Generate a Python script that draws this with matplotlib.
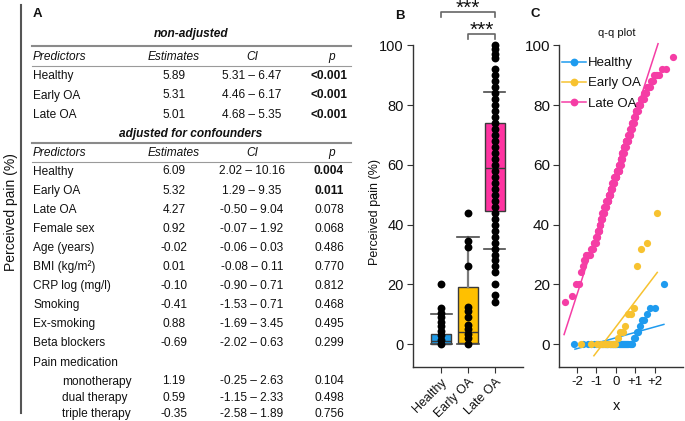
import matplotlib
matplotlib.use('Agg')
import matplotlib.pyplot as plt
import numpy as np
from statistics import NormalDist
from matplotlib.lines import Line2D

plt.rcParams['font.family'] = ['Liberation Sans', 'DejaVu Sans']

# ------------------------------------------------------------------ data
col_headers = ['Predictors', 'Estimates', 'CI', 'p']

nonadj_pred = ['Healthy', 'Early OA', 'Late OA']
nonadj_est = ['5.89', '5.31', '5.01']
nonadj_ci = ['5.31 – 6.47', '4.46 – 6.17', '4.68 – 5.35']
nonadj_p = ['<0.001', '<0.001', '<0.001']
nonadj_sig = [True, True, True]

adj_pred = ['Healthy', 'Early OA', 'Late OA', 'Female sex', 'Age (years)',
            'BMI (kg/m²)', 'CRP log (mg/l)', 'Smoking', 'Ex-smoking',
            'Beta blockers', 'Pain medication', 'monotherapy', 'dual therapy',
            'triple therapy']
adj_est = ['6.09', '5.32', '4.27', '0.92', '-0.02', '0.01', '-0.10', '-0.41',
           '0.88', '-0.69', '', '1.19', '0.59', '-0.35']
adj_ci = ['2.02 – 10.16', '1.29 – 9.35', '-0.50 – 9.04', '-0.07 – 1.92',
          '-0.06 – 0.03', '-0.08 – 0.11', '-0.90 – 0.71', '-1.53 – 0.71',
          '-1.69 – 3.45', '-2.02 – 0.63', '', '-0.25 – 2.63', '-1.15 – 2.33',
          '-2.58 – 1.89']
adj_p = ['0.004', '0.011', '0.078', '0.068', '0.486', '0.770', '0.812', '0.468',
         '0.495', '0.299', '', '0.104', '0.498', '0.756']
adj_sig = [True, True, False, False, False, False, False, False, False, False,
           False, False, False, False]
adj_indent = [False] * 11 + [True, True, True]

groups = ['Healthy', 'Early OA', 'Late OA']
colors_box = ['#1E9AE8', '#FFC000', '#FF33A1']
colors_qq = ['#1E9BEF', '#F7C230', '#F53DA5']

# box statistics
box_q1 = [0.0, 0.3, 44.7]
box_med = [1.0, 4.0, 59.0]
box_q3 = [3.4, 19.0, 74.0]
box_whislo = [0.0, 0.0, 32.0]
box_whishi = [10.0, 36.0, 84.3]

# individual points in panel B
dots_healthy = [0, 1.5, 3, 4.5, 6, 7.5, 9, 10.5, 12, 20]
dots_early = [0, 2, 3.5, 5, 6.5, 9, 11, 12.3, 26, 32.5, 34.5, 44]
dots_late = [14, 16.4, 20, 24, 26, 28, 30, 32, 34, 36, 38, 40, 42, 44, 46, 48,
             50, 52, 54, 56, 58, 60, 62, 64, 66, 68, 70, 72, 74, 76, 78, 80, 82,
             84, 86, 88, 90, 92, 95.8, 97.3, 98.8, 100]

# q-q samples (value, count)
qq_healthy_values = [0, 2, 4, 6, 8, 10, 12, 20]
qq_healthy_counts = [35, 2, 2, 1, 2, 1, 2, 1]
qq_early_values = [0, 2, 4, 6, 10, 12, 26, 32, 34, 44]
qq_early_counts = [9, 1, 2, 1, 2, 1, 1, 1, 1, 1]
qq_late_values = [14, 16, 20, 24, 26, 28, 30, 32, 34, 36, 38, 40, 42, 44, 46, 48,
                  50, 52, 54, 56, 58, 60, 62, 64, 66, 68, 70, 72, 74, 76, 78, 80,
                  82, 84, 86, 88, 90, 92, 96]
qq_late_counts = [1, 1, 2, 1, 1, 2, 5, 4, 4, 3, 4, 3, 4, 5, 6, 7,
                  6, 6, 7, 9, 9, 6, 5, 6, 7, 8, 7, 5, 6, 4, 6, 6,
                  6, 4, 4, 3, 4, 2, 1]
# reference lines (theoretical quantile, value) end points
qq_line_x0 = [-2.26, -1.29, -2.82]
qq_line_x1 = [2.30, 1.96, 2.00]
qq_line_y0 = [-1.7, -3.9, 3.2]
qq_line_y1 = [6.6, 24.0, 100.6]
qq_tick_labels = ['-2', '-1', '0', '+1', '+2']
qq_tick_values = [-2, -1, 0, 1, 2]
qq_tick_offset = -0.16

# ------------------------------------------------------------------ figure
W, H = 685, 421
fig = plt.figure(figsize=(W / 100, H / 100), dpi=100)


def fx(x):
    return x / W


def fy(y):
    return 1 - y / H


def ax_rect(l, t, r, b):
    return [fx(l), fy(b), fx(r) - fx(l), fy(t) - fy(b)]


# ------------------------------------------------------------------ panel A
TXT = '#111111'
FS = 8.6
fig.add_artist(Line2D([fx(21), fx(21)], [fy(5), fy(413)], color='#555555', lw=1.5))
fig.text(fx(11), fy(212), 'Perceived pain (%)', rotation=90, ha='center',
         va='center', fontsize=10, color=TXT)
fig.text(fx(33), fy(14), 'A', fontsize=9.5, fontweight='bold', ha='left',
         va='center', color=TXT)

x_pred, x_est, x_ci, x_p, x_ind = 33, 174, 252, 329, 62
t_left, t_right = 32, 351


def hline(y, lw, col):
    fig.add_artist(Line2D([fx(t_left), fx(t_right)], [fy(y), fy(y)], color=col, lw=lw))


def header(y):
    fig.text(fx(x_pred), fy(y), col_headers[0], style='italic', fontsize=FS,
             ha='left', va='center', color=TXT)
    fig.text(fx(x_est), fy(y), col_headers[1], style='italic', fontsize=FS,
             ha='center', va='center', color=TXT)
    fig.text(fx(x_ci), fy(y), col_headers[2], style='italic', fontsize=FS,
             ha='center', va='center', color=TXT)
    fig.text(fx(x_p + 3), fy(y), col_headers[3], style='italic', fontsize=FS,
             ha='center', va='center', color=TXT)


def row(y, pred, est, ci, p, sig, indent=False):
    fig.text(fx(x_ind if indent else x_pred), fy(y), pred, fontsize=FS,
             ha='left', va='center', color=TXT)
    fig.text(fx(x_est), fy(y), est, fontsize=FS, ha='center', va='center', color=TXT)
    fig.text(fx(x_ci), fy(y), ci, fontsize=FS, ha='center', va='center', color=TXT)
    fig.text(fx(x_p), fy(y), p, fontsize=FS, ha='center', va='center', color=TXT,
             fontweight='bold' if sig else 'normal')


fig.text(fx(191), fy(34), 'non-adjusted', fontsize=FS, fontweight='bold',
         style='italic', ha='center', va='center', color=TXT)
hline(45.5, 1.5, '#8a8a8a')
header(57)
hline(65.5, 0.8, '#9a9a9a')
ys_nonadj = [76, 95.5, 115]
for y, a, b, c, d, s in zip(ys_nonadj, nonadj_pred, nonadj_est, nonadj_ci,
                            nonadj_p, nonadj_sig):
    row(y, a, b, c, d, s)

fig.text(fx(191), fy(134), 'adjusted for confounders', fontsize=FS,
         fontweight='bold', style='italic', ha='center', va='center', color=TXT)
hline(143, 1.5, '#8a8a8a')
header(153)
hline(162, 0.8, '#9a9a9a')
ys_adj = [171.5, 190.6, 209.7, 228.8, 247.9, 267.0, 286.1, 305.2, 324.3, 343.4,
          363.0, 381.5, 398.0, 414.0]
for y, a, b, c, d, s, ind in zip(ys_adj, adj_pred, adj_est, adj_ci, adj_p,
                                 adj_sig, adj_indent):
    row(y, a, b, c, d, s, ind)

# ------------------------------------------------------------------ panel B
SP = '#333333'
axB = fig.add_axes(ax_rect(413, 45.5, 523, 366.5))
ylo = -7.5
axB.set_ylim(ylo, 100)
axB.set_xlim(-1.04, 3.04)
stats = []
for g, a, m, b, lo, hi in zip(groups, box_q1, box_med, box_q3, box_whislo, box_whishi):
    stats.append(dict(label=g, q1=a, med=m, q3=b, whislo=lo, whishi=hi, fliers=[]))
bp = axB.bxp(stats, positions=[0, 1, 2], widths=0.74, capwidths=0.78,
             patch_artist=True, showfliers=False,
             boxprops=dict(edgecolor='#3a3a3a', linewidth=1.0),
             medianprops=dict(color='#3a3a3a', linewidth=1.0),
             whiskerprops=dict(color='#7a7a7a', linewidth=1.6),
             capprops=dict(color='#4a4a4a', linewidth=1.2))
for patch, c in zip(bp['boxes'], colors_box):
    patch.set_facecolor(c)
for i, d in enumerate([dots_healthy, dots_early, dots_late]):
    axB.scatter(np.full(len(d), i), d, s=32, color='black', zorder=4,
                clip_on=False, linewidths=0)
for s in ['top', 'right']:
    axB.spines[s].set_visible(False)
for s in ['left', 'bottom']:
    axB.spines[s].set_color(SP)
    axB.spines[s].set_linewidth(1.0)
axB.set_yticks([0, 20, 40, 60, 80, 100])
axB.set_xticks([0, 1, 2])
axB.set_xticklabels(groups, rotation=45, ha='right', va='top',
                    rotation_mode='anchor', fontsize=9)
axB.tick_params(axis='y', labelsize=10.5, length=4, width=0.8, color=SP,
                pad=2.5, labelcolor=TXT)
axB.tick_params(axis='x', length=4, width=0.8, color=SP, pad=3, labelcolor=TXT)
fig.text(fx(375), fy(212), 'Perceived pain (%)', rotation=90, ha='center',
         va='center', fontsize=9, color=TXT)
fig.text(fx(400), fy(16), 'B', fontsize=9.5, fontweight='bold', ha='center',
         va='center', color=TXT)

# significance brackets
BR = '#666666'
sig_pairs = [(0, 2), (1, 2)]
sig_line_y = [111.2, 104.0]
sig_labels = ['***', '***']
for (a, b), yv, lab in zip(sig_pairs, sig_line_y, sig_labels):
    axB.plot([a, a, b, b], [yv - 1.8, yv, yv, yv - 1.8], color=BR, lw=1.2,
             clip_on=False)
    axB.text((a + b) / 2, yv - 0.6, lab, ha='center', va='baseline',
             fontsize=15, color=TXT, clip_on=False)

# ------------------------------------------------------------------ panel C
axC = fig.add_axes(ax_rect(559, 45.5, 683, 366.5))
axC.set_ylim(ylo, 100)
axC.set_xlim(-3.08, 3.28)
nd = NormalDist()
qq_sets = [(qq_healthy_values, qq_healthy_counts),
           (qq_early_values, qq_early_counts),
           (qq_late_values, qq_late_counts)]
order = [2, 1, 0]
for i in order:
    vals, cnts = qq_sets[i]
    sample = np.sort(np.repeat(vals, cnts))
    n = len(sample)
    theo = np.array([nd.inv_cdf((k + 0.5) / n) for k in range(n)])
    axC.plot([qq_line_x0[i], qq_line_x1[i]], [qq_line_y0[i], qq_line_y1[i]],
             color=colors_qq[i], lw=1.1, zorder=2 + i, clip_on=False)
    axC.scatter(theo, sample, s=27, color=colors_qq[i], zorder=2 + i,
                linewidths=0, clip_on=False)
for s in ['top', 'right']:
    axC.spines[s].set_visible(False)
for s in ['left', 'bottom']:
    axC.spines[s].set_color(SP)
    axC.spines[s].set_linewidth(1.0)
axC.set_yticks([0, 20, 40, 60, 80, 100])
axC.set_xticks(np.array(qq_tick_values) + qq_tick_offset)
axC.set_xticklabels(qq_tick_labels, fontsize=9.5)
axC.tick_params(axis='y', labelsize=11, length=4, width=0.8, color=SP, pad=2.5,
                labelcolor=TXT)
axC.tick_params(axis='x', length=4, width=0.8, color=SP, pad=3, labelcolor=TXT)
fig.text(fx(617), fy(406), 'x', ha='center', va='center', fontsize=10.5, color=TXT)
fig.text(fx(617), fy(33), 'q-q plot', ha='center', va='center', fontsize=8, color=TXT)
fig.text(fx(535), fy(14), 'C', fontsize=9.5, fontweight='bold', ha='center',
         va='center', color=TXT)
handles = [Line2D([0], [0], color=c, lw=1.1, marker='o', markersize=5.6,
                  markeredgewidth=0) for c in colors_qq]
axC.legend(handles, groups, loc='upper left', bbox_to_anchor=(fx(562), fy(57)),
           bbox_transform=fig.transFigure, frameon=False, fontsize=9.5,
           handlelength=1.8, handletextpad=0.15, borderpad=0, borderaxespad=0,
           labelspacing=0.6, labelcolor=TXT)

fig.savefig('out.png', dpi=100)
